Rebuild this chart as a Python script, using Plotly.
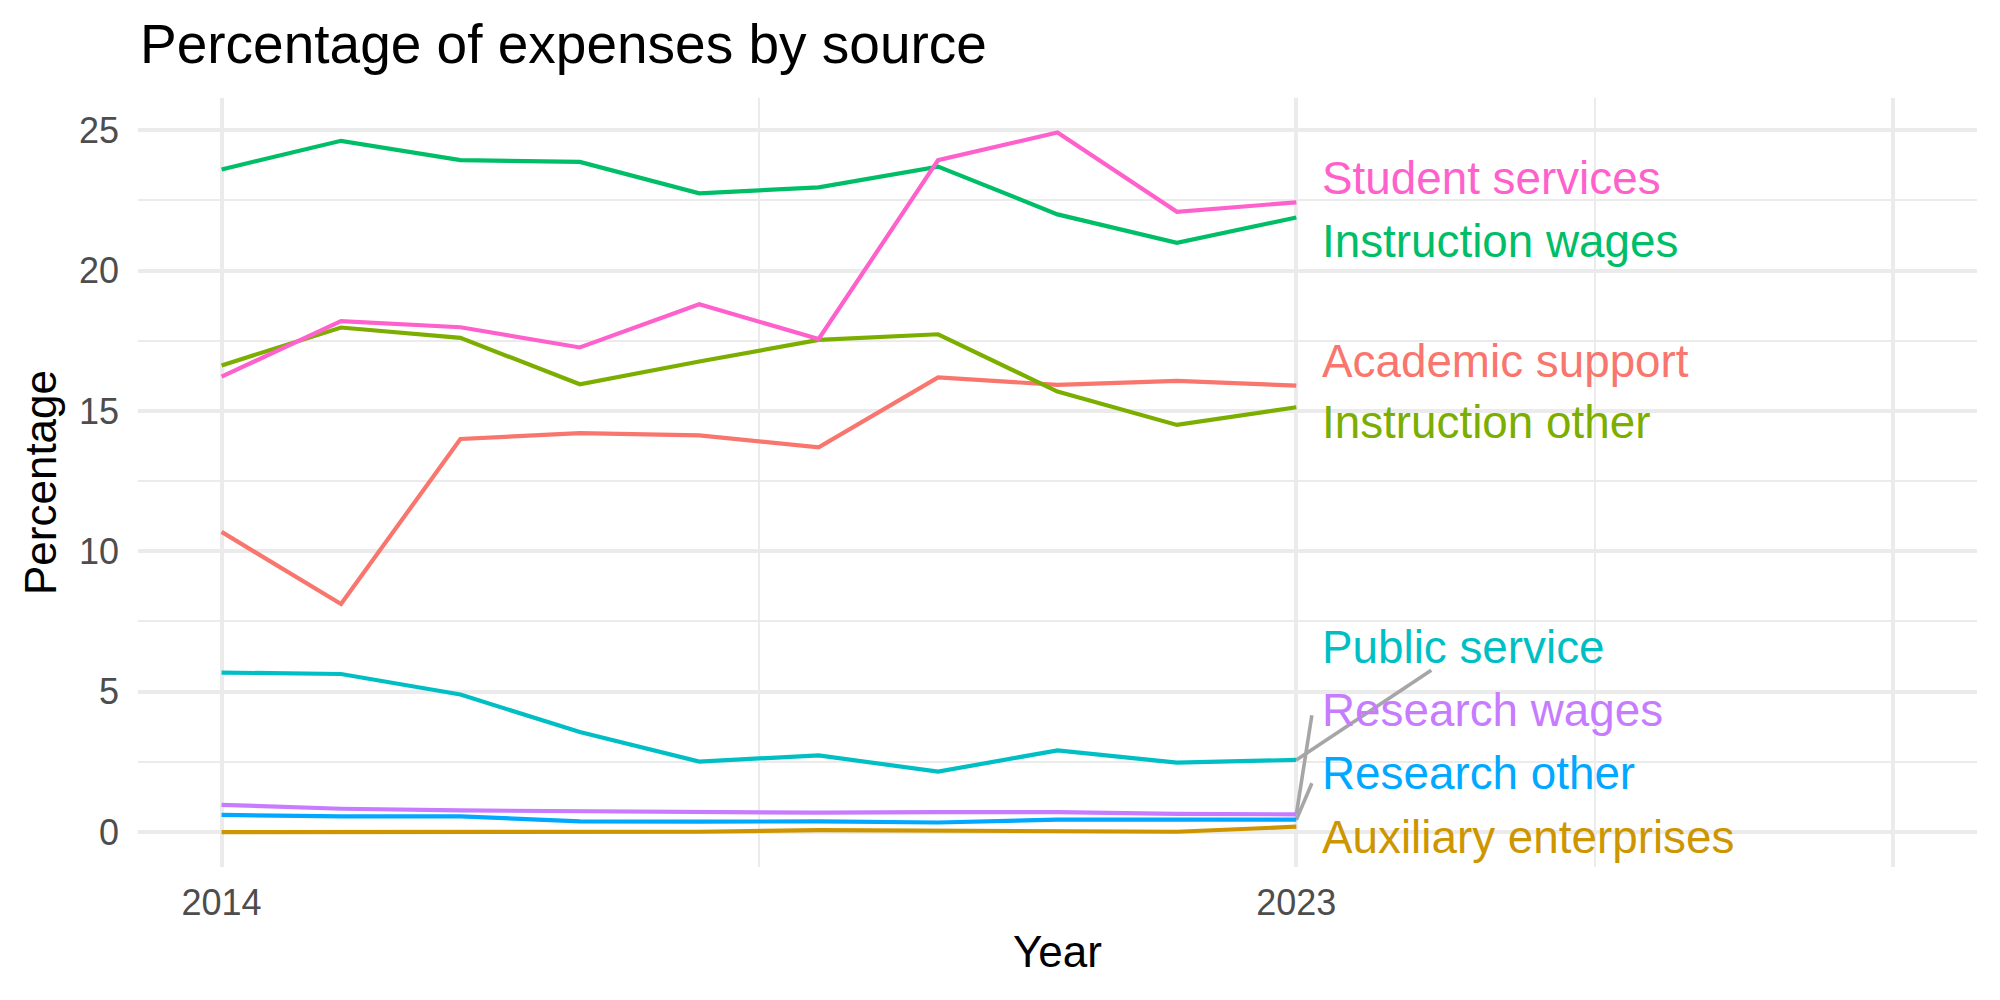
import plotly.graph_objects as go

years = [2014, 2015, 2016, 2017, 2018, 2019, 2020, 2021, 2022, 2023]

academic_support = [10.69, 8.12, 14.00, 14.21, 14.13, 13.70, 16.19, 15.93, 16.07, 15.90]
auxiliary_enterprises = [0.00, 0.00, 0.00, 0.00, 0.01, 0.07, 0.04, 0.01, 0.01, 0.19]
instruction_other = [16.62, 17.97, 17.60, 15.95, 16.76, 17.53, 17.73, 15.69, 14.50, 15.13]
instruction_wages = [23.60, 24.62, 23.93, 23.87, 22.75, 22.96, 23.70, 22.00, 20.99, 21.89]
public_service = [5.68, 5.63, 4.90, 3.56, 2.51, 2.73, 2.15, 2.91, 2.47, 2.57]
research_other = [0.61, 0.56, 0.56, 0.38, 0.37, 0.38, 0.34, 0.44, 0.44, 0.44]
research_wages = [0.97, 0.83, 0.77, 0.74, 0.72, 0.69, 0.71, 0.71, 0.65, 0.63]
student_services = [16.22, 18.20, 17.98, 17.26, 18.80, 17.56, 23.93, 24.92, 22.09, 22.43]

series_names = ["Academic support", "Auxiliary enterprises", "Instruction other",
                "Instruction wages", "Public service", "Research other",
                "Research wages", "Student services"]
series_values = [academic_support, auxiliary_enterprises, instruction_other,
                 instruction_wages, public_service, research_other,
                 research_wages, student_services]
series_colors = ["#F8766D", "#CD9600", "#7CAE00", "#00BE67",
                 "#00BFC4", "#00A9FF", "#C77CFF", "#FF61CC"]

# repelled label positions (y, data units) and leader-line end points
label_y = {"Student services": 23.28, "Instruction wages": 21.03,
           "Academic support": 16.76, "Instruction other": 14.57,
           "Public service": 6.57, "Research wages": 4.32,
           "Research other": 2.07, "Auxiliary enterprises": -0.19}
label_x = 2023.2
leader_end = {"Public service": (2024.13, 5.76),
              "Research wages": (2023.13, 4.16),
              "Research other": (2023.13, 1.74)}

x_ticks = [2014, 2023, 2028]
x_ticktext = ["2014", "2023", ""]
x_minor = [2018.5, 2025.5]
y_ticks = [0, 5, 10, 15, 20, 25]
y_minor = [2.5, 7.5, 12.5, 17.5, 22.5]

FONT = "Liberation Sans, Arial, Helvetica, sans-serif"
GRID = "#EBEBEB"

fig = go.Figure()

# leader segments (drawn beneath the lines)
for name, vals in zip(series_names, series_values):
    if name in leader_end:
        ex, ey = leader_end[name]
        fig.add_trace(go.Scatter(x=[years[-1], ex], y=[vals[-1], ey], mode="lines",
                                 line=dict(color="#A6A6A6", width=3.6),
                                 showlegend=False, hoverinfo="skip"))

for name, vals, col in zip(series_names, series_values, series_colors):
    fig.add_trace(go.Scatter(x=years, y=vals, mode="lines", name=name,
                             line=dict(color=col, width=4.2), showlegend=False))

for name, vals, col in zip(series_names, series_values, series_colors):
    fig.add_annotation(x=label_x, y=label_y[name], text=name, xref="x", yref="y",
                       xanchor="left", yanchor="middle", showarrow=False,
                       font=dict(family=FONT, size=45.8, color=col))

fig.update_layout(
    width=2000, height=1000,
    paper_bgcolor="white", plot_bgcolor="white",
    margin=dict(l=138, r=23, t=98, b=133),
    font=dict(family=FONT),
    title=dict(text="Percentage of expenses by source", x=0.07, xanchor="left",
               xref="container", y=0.956, yanchor="middle", yref="container",
               font=dict(family=FONT, size=55, color="black")),
    xaxis=dict(range=[2013.3, 2028.7], tickmode="array", tickvals=x_ticks,
               ticktext=x_ticktext, showgrid=True, gridcolor=GRID, gridwidth=4,
               zeroline=False, showline=False, ticks="",
               ticklabelstandoff=11,
               tickfont=dict(family=FONT, size=36, color="#4D4D4D"),
               minor=dict(tickmode="array", tickvals=x_minor, showgrid=True,
                          gridcolor=GRID, gridwidth=2),
               title=dict(text="Year", standoff=14,
                          font=dict(family=FONT, size=44, color="black"))),
    yaxis=dict(range=[-1.245, 26.145], tickmode="array", tickvals=y_ticks,
               showgrid=True, gridcolor=GRID, gridwidth=4,
               zeroline=False, showline=False, ticks="",
               ticklabelstandoff=18,
               tickfont=dict(family=FONT, size=36, color="#4D4D4D"),
               minor=dict(tickmode="array", tickvals=y_minor, showgrid=True,
                          gridcolor=GRID, gridwidth=2),
               title=dict(text="Percentage", standoff=8,
                          font=dict(family=FONT, size=44, color="black"))),
)

fig.write_html("out.html")
